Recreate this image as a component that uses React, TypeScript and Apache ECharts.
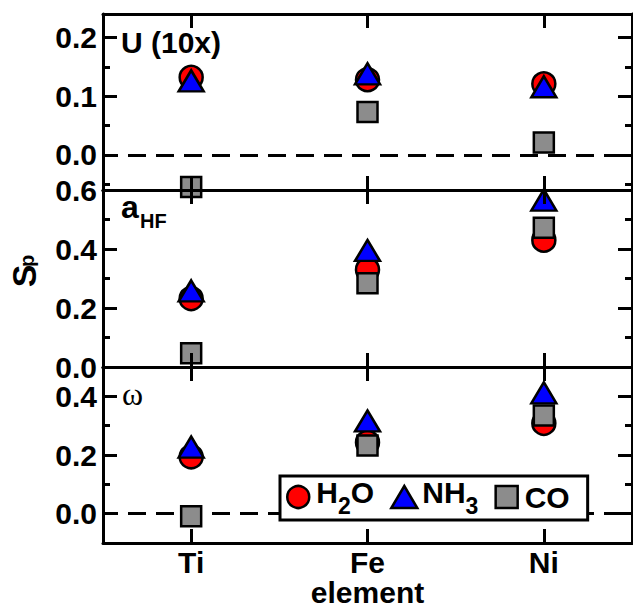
import React, { useEffect, useRef } from 'react';
import * as echarts from 'echarts';

const categories = ['Ti', 'Fe', 'Ni'];

// Panel 1: U (10x)
const uH2O = [0.132, 0.128, 0.121];
const uNH3 = [0.126, 0.138, 0.116];
const uCO = [-0.055, 0.073, 0.021];
// Panel 2: a_HF
const aH2O = [0.232, 0.33, 0.43];
const aNH3 = [0.258, 0.395, 0.566];
const aCO = [0.047, 0.284, 0.472];
// Panel 3: omega
const wH2O = [0.194, 0.243, 0.308];
const wNH3 = [0.227, 0.316, 0.412];
const wCO = [-0.009, 0.232, 0.335];

// Axis ranges and ticks
const uRange = [-0.06, 0.24];
const uMajor = [0, 0.1, 0.2];
const uMinor = [-0.05, 0.05, 0.15];
const aRange = [0, 0.6];
const aMajor = [0, 0.2, 0.4, 0.6];
const aMinor = [0.1, 0.3, 0.5];
const wRange = [-0.1, 0.5];
const wMajor = [0, 0.2, 0.4];
const wMinor = [0.1, 0.3];

const seriesNames = ['H2O', 'NH3', 'CO'];
const legendLabels: Record<string, string> = {
  H2O: '{m|H}{s|2}{m|O}',
  NH3: '{m|NH}{s|3}',
  CO: '{m|CO}',
};

const FONT = "'Liberation Sans', Arial, Helvetica, sans-serif";
const COLORS = ['#ff0000', '#0000ff', '#8c8c8c'];
const SYMBOLS: any[] = ['circle', 'triangle', 'rect'];
const SIZES: any[] = [23, [25, 21], 20];

function xAxes(grid: number, showLabels: boolean) {
  const common = {
    type: 'category',
    data: categories,
    gridIndex: grid,
    boundaryGap: true,
    z: 3,
    axisLine: { show: true, onZero: false, lineStyle: { color: '#000', width: 3 } },
    axisTick: { show: true, inside: true, alignWithLabel: true, length: 14, lineStyle: { color: '#000', width: 3 } },
    splitLine: { show: false },
  };
  return [
    {
      ...common,
      position: 'bottom',
      axisLabel: { show: showLabels, margin: 7, fontSize: 30, lineHeight: 24, fontWeight: 'bold', fontFamily: FONT, color: '#000' },
    },
    { ...common, position: 'top', axisLabel: { show: false } },
  ];
}

function yAxes(grid: number, range: number[], majors: number[], minors: number[]) {
  const base = {
    type: 'value',
    gridIndex: grid,
    min: range[0],
    max: range[1],
    z: 3,
    splitLine: { show: false },
  };
  const tickStyle = { color: '#000', width: 3 };
  return [
    {
      ...base,
      position: 'left',
      axisLine: { show: true, onZero: false, lineStyle: { color: '#000', width: 3 } },
      axisTick: { show: true, inside: true, length: 14, customValues: majors, lineStyle: tickStyle },
      axisLabel: {
        show: true,
        customValues: majors,
        margin: 6,
        fontSize: 30,
        lineHeight: 20,
        fontWeight: 'bold',
        fontFamily: FONT,
        color: '#000',
        formatter: (v: number) => v.toFixed(1),
      },
    },
    {
      ...base,
      position: 'left',
      axisLine: { show: false, onZero: false },
      axisTick: { show: true, inside: true, length: 7, customValues: minors, lineStyle: tickStyle },
      axisLabel: { show: false },
    },
    {
      ...base,
      position: 'right',
      axisLine: { show: true, onZero: false, lineStyle: { color: '#000', width: 3 } },
      axisTick: { show: true, inside: true, length: 14, customValues: majors, lineStyle: tickStyle },
      axisLabel: { show: false },
    },
    {
      ...base,
      position: 'right',
      axisLine: { show: false, onZero: false },
      axisTick: { show: true, inside: true, length: 7, customValues: minors, lineStyle: tickStyle },
      axisLabel: { show: false },
    },
  ];
}

const zeroLine = {
  silent: true,
  symbol: ['none', 'none'],
  z: 1,
  label: { show: false },
  lineStyle: { color: '#000', width: 3, type: [18, 10], dashOffset: 3 },
  data: [{ yAxis: 0 }],
};

function panelSeries(panel: number, values: number[][], withZero: boolean) {
  return values.map((vals, i) => ({
    type: 'scatter',
    name: seriesNames[i],
    xAxisIndex: panel * 2,
    yAxisIndex: panel * 4,
    symbol: SYMBOLS[i],
    symbolSize: SIZES[i],
    itemStyle: { color: COLORS[i], borderColor: '#000', borderWidth: 2.5, opacity: 1 },
    data: vals,
    markLine: withZero && i === 0 ? zeroLine : undefined,
  }));
}

export default function App() {
  const ref = useRef<HTMLDivElement>(null);
  useEffect(() => {
    if (!ref.current) return;
    const chart = echarts.init(ref.current, undefined, { renderer: 'svg' });
    const option: any = {
      animation: false,
      backgroundColor: '#fff',
      grid: [
        { left: 103, top: 14, width: 529, height: 176 },
        { left: 103, top: 190, width: 529, height: 177 },
        { left: 103, top: 367, width: 529, height: 176 },
      ],
      xAxis: [...xAxes(0, false), ...xAxes(1, false), ...xAxes(2, true)],
      yAxis: [
        ...yAxes(0, uRange, uMajor, uMinor),
        ...yAxes(1, aRange, aMajor, aMinor),
        ...yAxes(2, wRange, wMajor, wMinor),
      ],
      legend: {
        left: 280,
        top: 476,
        orient: 'horizontal',
        itemWidth: 26,
        itemHeight: 22,
        itemGap: 16,
        padding: [1, 18, 3, 6],
        backgroundColor: '#fff',
        borderColor: '#000',
        borderWidth: 3,
        borderRadius: 0,
        selectedMode: false,
        z: 4,
        itemStyle: { borderColor: '#000', borderWidth: 2.5 },
        data: [
          { name: 'H2O', icon: 'circle' },
          { name: 'NH3', icon: 'triangle' },
          { name: 'CO', icon: 'path://M0,0H10V10H0Z' },
        ],
        formatter: (name: string) => legendLabels[name],
        textStyle: {
          color: '#000',
          rich: {
            m: { fontSize: 30, fontWeight: 'bold', fontFamily: FONT, color: '#000', verticalAlign: 'top' },
            s: { fontSize: 23, fontWeight: 'bold', fontFamily: FONT, color: '#000', padding: [17, 0, 0, 0] },
          },
        },
      },
      series: [
        ...panelSeries(0, [uH2O, uNH3, uCO], true),
        ...panelSeries(1, [aH2O, aNH3, aCO], false),
        ...panelSeries(2, [wH2O, wNH3, wCO], true),
      ],
      graphic: [
        {
          type: 'text', x: 121, y: 42.5, z: 10,
          style: { text: 'U (10x)', fontSize: 30, fontWeight: 'bold', fontFamily: FONT, fill: '#000', align: 'left', verticalAlign: 'middle' },
        },
        {
          type: 'text', x: 121, y: 207, z: 10,
          style: { text: 'a', fontSize: 32, fontWeight: 'bold', fontFamily: FONT, fill: '#000', align: 'left', verticalAlign: 'middle' },
        },
        {
          type: 'text', x: 140, y: 221, z: 10,
          style: { text: 'HF', fontSize: 20, fontWeight: 'bold', fontFamily: FONT, fill: '#000', align: 'left', verticalAlign: 'middle' },
        },
        {
          type: 'text', x: 122, y: 394, z: 10,
          style: { text: 'ω', fontSize: 32, fontFamily: "'Liberation Serif', 'Times New Roman', serif", fill: '#000', align: 'left', verticalAlign: 'middle' },
        },
        {
          type: 'text', x: 24, y: 276, rotation: Math.PI / 2, z: 10,
          style: { text: 'S', fontSize: 34, fontWeight: 'bold', fontFamily: FONT, fill: '#000', align: 'center', verticalAlign: 'middle' },
        },
        {
          type: 'text', x: 27, y: 261, rotation: Math.PI / 2, z: 10,
          style: { text: 'p', fontSize: 20, fontWeight: 'bold', fontFamily: FONT, fill: '#000', align: 'center', verticalAlign: 'middle' },
        },
        {
          type: 'text', x: 367.5, y: 592, z: 10,
          style: { text: 'element', fontSize: 30, lineHeight: 24, fontWeight: 'bold', fontFamily: FONT, fill: '#000', align: 'center', verticalAlign: 'middle' },
        },
      ],
    };
    chart.setOption(option);
    return () => chart.dispose();
  }, []);
  return (
    <div
      ref={ref}
      style={{ position: 'absolute', left: 0, top: 0, width: 633, height: 606, background: '#fff' }}
    />
  );
}
